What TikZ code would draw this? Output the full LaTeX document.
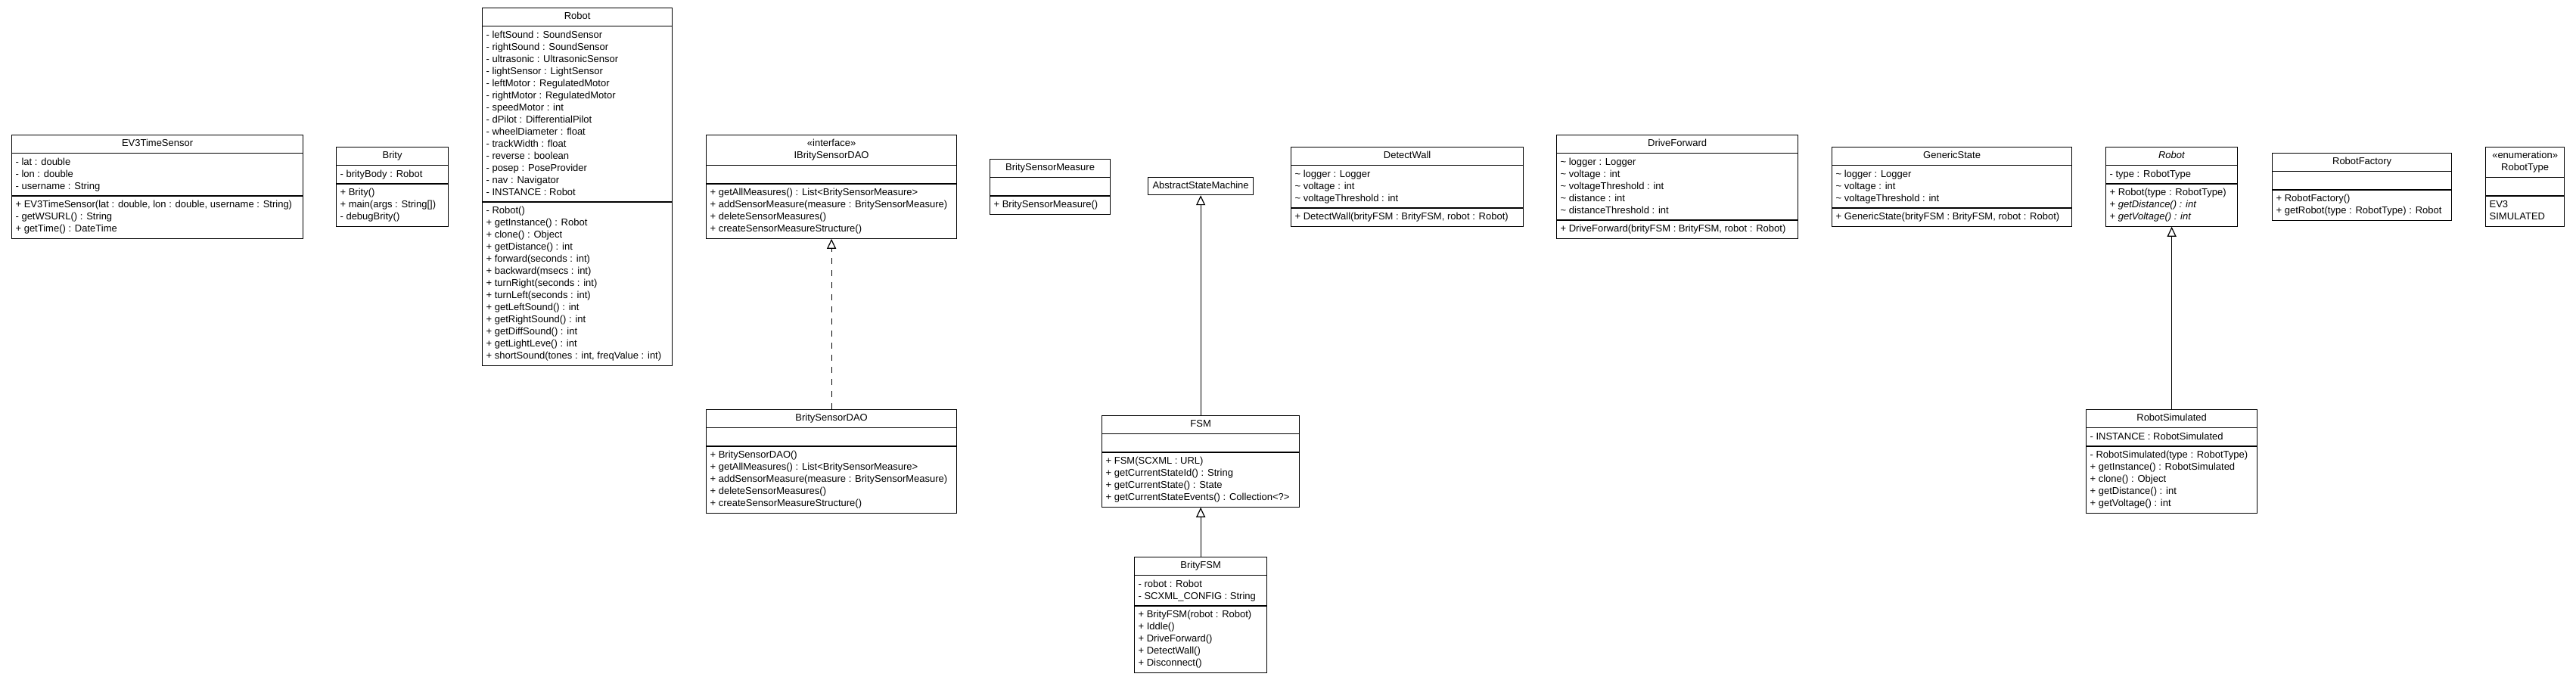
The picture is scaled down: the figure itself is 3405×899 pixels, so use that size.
\documentclass[tikz,border=0pt]{standalone}
\usepackage{fontspec}
\setmainfont{Liberation Sans}
\usepackage{array}
\usepackage{tikz}
\usetikzlibrary{arrows.meta,shapes.multipart}
\newcolumntype{H}[1]{@{}>{\centering\arraybackslash}p{#1}@{}}
\newcolumntype{L}[1]{@{}>{\raggedright\arraybackslash}p{#1}@{}}

\begin{document}
\begin{tikzpicture}[x=1pt,y=-1pt,
		every node/.style={font=\fontsize{13}{16}\selectfont},
		umlclass/.style={draw,line width=1.2pt,rectangle split,rectangle split parts=3,
			anchor=north west,inner xsep=5pt,inner ysep=3.5pt},
		umlbox/.style={draw,line width=1.2pt,anchor=north west,inner xsep=5pt,inner ysep=3.5pt},
		extends/.style={draw,line width=1.2pt,-{Triangle[open,width=12pt,length=13pt]}},
		implements/.style={extends,dash pattern=on 8pt off 8pt}]
		\useasboundingbox (0,0) rectangle (3405,899);
		\node[umlclass] (ev3sensor) at (15,178)
			{\begin{tabular}{H{375pt}}EV3TimeSensor\end{tabular}
			\nodepart{two}\begin{tabular}{L{375pt}}- lat : double\\- lon : double\\- username : String\end{tabular}
			\nodepart{three}\begin{tabular}{L{375pt}}+ EV3TimeSensor(lat : double, lon : double, username : String)\\- getWSURL() : String\\+ getTime() : DateTime\end{tabular}};
		\node[umlclass] (brity) at (444,194)
			{\begin{tabular}{H{138pt}}Brity\end{tabular}
			\nodepart{two}\begin{tabular}{L{138pt}}- brityBody : Robot\end{tabular}
			\nodepart{three}\begin{tabular}{L{138pt}}+ Brity()\\+ main(args : String[])\\- debugBrity()\end{tabular}};
		\node[umlclass] (robot) at (637,10)
			{\begin{tabular}{H{241pt}}Robot\end{tabular}
			\nodepart{two}\begin{tabular}{L{241pt}}- leftSound : SoundSensor\\- rightSound : SoundSensor\\- ultrasonic : UltrasonicSensor\\- lightSensor : LightSensor\\- leftMotor : RegulatedMotor\\- rightMotor : RegulatedMotor\\- speedMotor : int\\- dPilot : DifferentialPilot\\- wheelDiameter : float\\- trackWidth : float\\- reverse : boolean\\- posep : PoseProvider\\- nav : Navigator\\- INSTANCE : Robot\end{tabular}
			\nodepart{three}\begin{tabular}{L{241pt}}- Robot()\\+ getInstance() : Robot\\+ clone() : Object\\+ getDistance() : int\\+ forward(seconds : int)\\+ backward(msecs : int)\\+ turnRight(seconds : int)\\+ turnLeft(seconds : int)\\+ getLeftSound() : int\\+ getRightSound() : int\\+ getDiffSound() : int\\+ getLightLeve() : int\\+ shortSound(tones : int, freqValue : int)\end{tabular}};
		\node[umlclass] (ibritydao) at (933,178)
			{\begin{tabular}{H{321pt}}«interface»\\IBritySensorDAO\end{tabular}
			\nodepart{two}\begin{tabular}{L{321pt}}~\end{tabular}
			\nodepart{three}\begin{tabular}{L{321pt}}+ getAllMeasures() : List<BritySensorMeasure>\\+ addSensorMeasure(measure : BritySensorMeasure)\\+ deleteSensorMeasures()\\+ createSensorMeasureStructure()\end{tabular}};
		\node[umlclass] (britydao) at (933,541)
			{\begin{tabular}{H{321pt}}BritySensorDAO\end{tabular}
			\nodepart{two}\begin{tabular}{L{321pt}}~\end{tabular}
			\nodepart{three}\begin{tabular}{L{321pt}}+ BritySensorDAO()\\+ getAllMeasures() : List<BritySensorMeasure>\\+ addSensorMeasure(measure : BritySensorMeasure)\\+ deleteSensorMeasures()\\+ createSensorMeasureStructure()\end{tabular}};
		\node[umlclass] (measure) at (1308,210)
			{\begin{tabular}{H{149pt}}BritySensorMeasure\end{tabular}
			\nodepart{two}\begin{tabular}{L{149pt}}~\end{tabular}
			\nodepart{three}\begin{tabular}{L{149pt}}+ BritySensorMeasure()\end{tabular}};
		\node[umlbox] (statemachine) at (1517,234)
			{\begin{tabular}{H{129pt}}AbstractStateMachine\end{tabular}};
		\node[umlclass] (fsm) at (1456,549)
			{\begin{tabular}{H{251pt}}FSM\end{tabular}
			\nodepart{two}\begin{tabular}{L{251pt}}~\end{tabular}
			\nodepart{three}\begin{tabular}{L{251pt}}+ FSM(SCXML : URL)\\+ getCurrentStateId() : String\\+ getCurrentState() : State\\+ getCurrentStateEvents() : Collection<?>\end{tabular}};
		\node[umlclass] (brityfsm) at (1499,736)
			{\begin{tabular}{H{165pt}}BrityFSM\end{tabular}
			\nodepart{two}\begin{tabular}{L{165pt}}- robot : Robot\\- SCXML\_CONFIG : String\end{tabular}
			\nodepart{three}\begin{tabular}{L{165pt}}+ BrityFSM(robot : Robot)\\+ Iddle()\\+ DriveForward()\\+ DetectWall()\\+ Disconnect()\end{tabular}};
		\node[umlclass] (detectwall) at (1706,194)
			{\begin{tabular}{H{297pt}}DetectWall\end{tabular}
			\nodepart{two}\begin{tabular}{L{297pt}}\textasciitilde{} logger : Logger\\\textasciitilde{} voltage : int\\\textasciitilde{} voltageThreshold : int\end{tabular}
			\nodepart{three}\begin{tabular}{L{297pt}}+ DetectWall(brityFSM : BrityFSM, robot : Robot)\end{tabular}};
		\node[umlclass] (driveforward) at (2057,178)
			{\begin{tabular}{H{309pt}}DriveForward\end{tabular}
			\nodepart{two}\begin{tabular}{L{309pt}}\textasciitilde{} logger : Logger\\\textasciitilde{} voltage : int\\\textasciitilde{} voltageThreshold : int\\\textasciitilde{} distance : int\\\textasciitilde{} distanceThreshold : int\end{tabular}
			\nodepart{three}\begin{tabular}{L{309pt}}+ DriveForward(brityFSM : BrityFSM, robot : Robot)\end{tabular}};
		\node[umlclass] (genericstate) at (2421,194)
			{\begin{tabular}{H{307pt}}GenericState\end{tabular}
			\nodepart{two}\begin{tabular}{L{307pt}}\textasciitilde{} logger : Logger\\\textasciitilde{} voltage : int\\\textasciitilde{} voltageThreshold : int\end{tabular}
			\nodepart{three}\begin{tabular}{L{307pt}}+ GenericState(brityFSM : BrityFSM, robot : Robot)\end{tabular}};
		\node[umlclass] (robotabs) at (2783,194)
			{\begin{tabular}{H{164pt}}\textit{Robot}\end{tabular}
			\nodepart{two}\begin{tabular}{L{164pt}}- type : RobotType\end{tabular}
			\nodepart{three}\begin{tabular}{L{164pt}}+ Robot(type : RobotType)\\+ \textit{getDistance() : int}\\+ \textit{getVoltage() : int}\end{tabular}};
		\node[umlclass] (robotsim) at (2757,541)
			{\begin{tabular}{H{216pt}}RobotSimulated\end{tabular}
			\nodepart{two}\begin{tabular}{L{216pt}}- INSTANCE : RobotSimulated\end{tabular}
			\nodepart{three}\begin{tabular}{L{216pt}}- RobotSimulated(type : RobotType)\\+ getInstance() : RobotSimulated\\+ clone() : Object\\+ getDistance() : int\\+ getVoltage() : int\end{tabular}};
		\node[umlclass] (robotfactory) at (3003,202)
			{\begin{tabular}{H{227pt}}RobotFactory\end{tabular}
			\nodepart{two}\begin{tabular}{L{227pt}}~\end{tabular}
			\nodepart{three}\begin{tabular}{L{227pt}}+ RobotFactory()\\+ getRobot(type : RobotType) : Robot\end{tabular}};
		\node[umlclass] (robottype) at (3285,194)
			{\begin{tabular}{H{94pt}}«enumeration»\\RobotType\end{tabular}
			\nodepart{two}\begin{tabular}{L{94pt}}~\end{tabular}
			\nodepart{three}\begin{tabular}{L{94pt}}EV3\\SIMULATED\end{tabular}};
		\draw[implements] (britydao.north) -- (ibritydao.south);
		\draw[extends] (fsm.north) -- (statemachine.south);
		\draw[extends] (brityfsm.north) -- (fsm.south);
		\draw[extends] (robotsim.north) -- (robotabs.south);
	\end{tikzpicture}
\end{document}
